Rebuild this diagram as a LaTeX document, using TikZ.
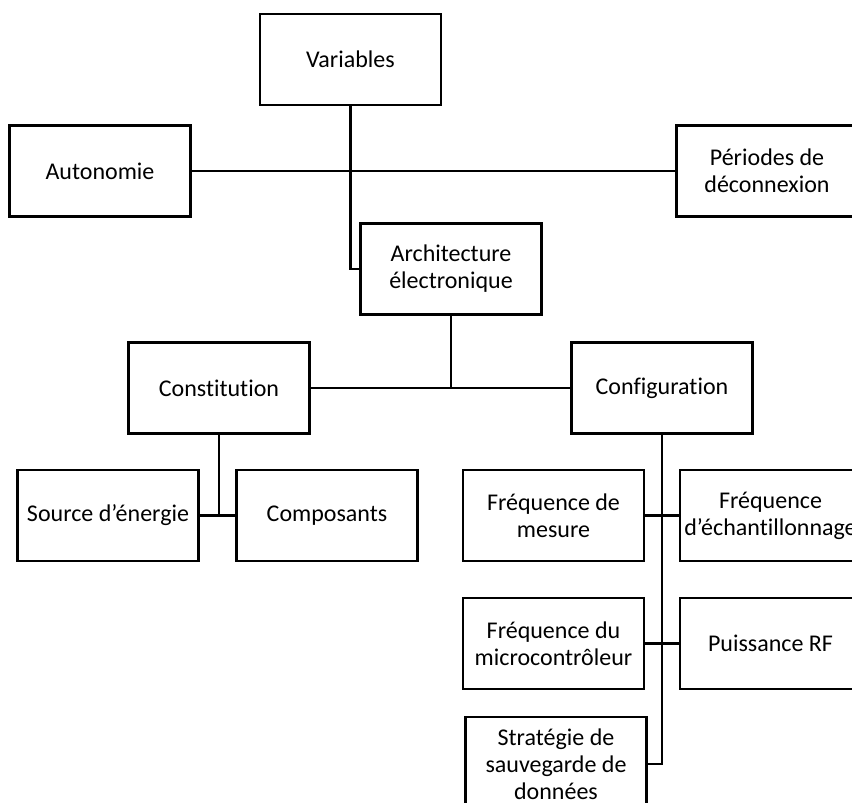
\documentclass[tikz,border=0pt]{standalone}
\usepackage{fontspec}
\setmainfont{Carlito}[Ligatures=CommonOff]
\usepackage{tikz}

\begin{document}
\begin{tikzpicture}[
    x=1pt, y=-1pt,
    every node/.style={draw, rectangle, align=center, minimum width=181pt, minimum height=91pt,
      inner xsep=0pt, line width=2.5pt, font=\fontsize{24}{27}\selectfont},
    link/.style={draw, line width=2.5pt}
  ]
  \clip (0,0) rectangle (852,803);

  % top level
  \node (variables) at (350.5,59.5) {Variables};
  \node (autonomie) at (100,171) {Autonomie};
  \node (periodes) at (767,171) {Périodes de\\déconnexion};
  \node (archi) at (451,269) {Architecture\\électronique};

  % second level
  \node (constit) at (219,388) {Constitution};
  \node (config) at (662,388) {Configuration};

  \node (source) at (108,515.5) {Source d’énergie};
  \node (compo) at (327,515.5) {Composants};

  \node (freqmes) at (553.5,515.5) {Fréquence de\\mesure};
  \node (freqech) at (770.5,515.5) {Fréquence\\d’échantillonnage};
  \node (freqmic) at (553.5,643.5) {Fréquence du\\microcontrôleur};
  \node (puissance) at (770.5,643.5) {Puissance RF};
  \node[minimum height=94pt] (strategie) at (556,764) {Stratégie de\\sauvegarde de\\données};

  % connectors
  \path[link] (autonomie.east) -- (periodes.west);
  \path[link] (variables.south) |- (archi.west);
  \path[link] (archi.south) -- (archi.south |- constit.east);
  \path[link] (constit.east) -- (config.west);
  \path[link] (constit.south) -- (constit.south |- source.east);
  \path[link] (source.east) -- (compo.west);
  \path[link] (config.south) |- (strategie.east);
  \path[link] (freqmes.east) -- (freqech.west);
  \path[link] (freqmic.east) -- (puissance.west);
\end{tikzpicture}
\end{document}
